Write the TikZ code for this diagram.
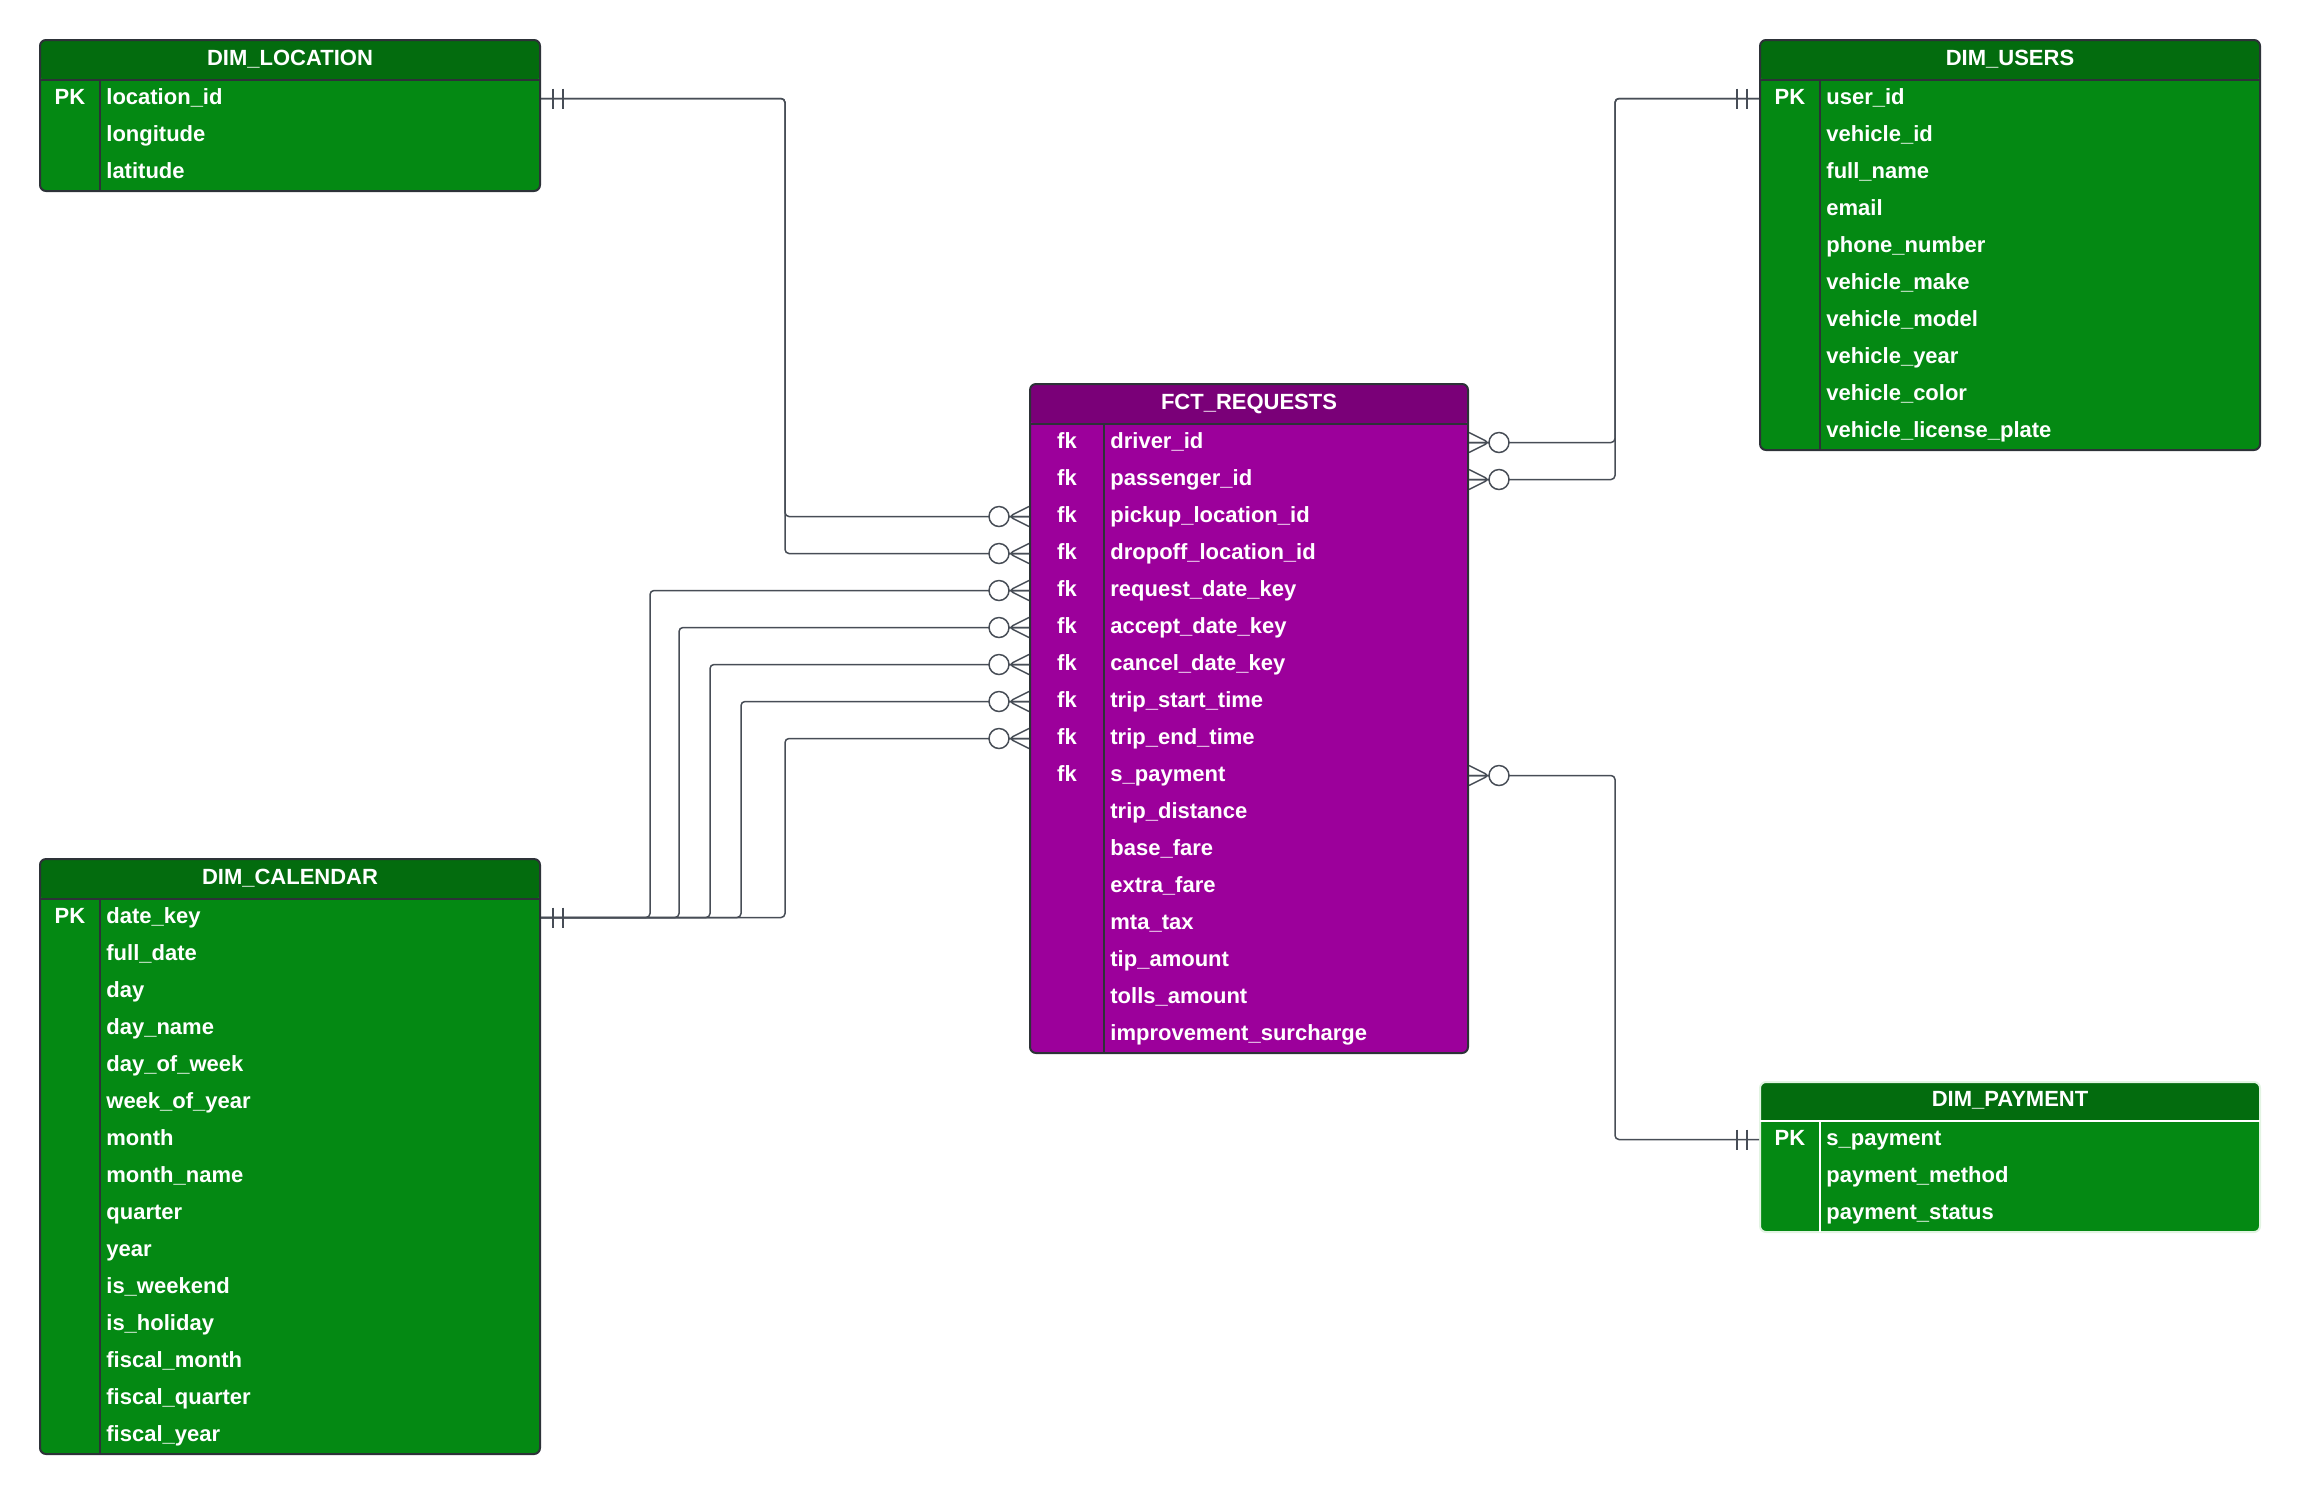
\documentclass[tikz,border=0pt]{standalone}
\usepackage{fontspec}
\setmainfont{Liberation Sans}
\usetikzlibrary{calc,fit}
\definecolor{ghead}{HTML}{036C0E}
\definecolor{gbody}{HTML}{048913}
\definecolor{phead}{HTML}{7A0078}
\definecolor{pbody}{HTML}{9C009B}
\definecolor{tblline}{HTML}{2D3238}
\definecolor{paybord}{HTML}{E2F4E2}
\definecolor{wirecol}{HTML}{474D56}
\newcommand{\OneOnly}[2]{\draw[wire] ($(#1)+(#2*12,-10)$) -- ++(0,20) ($(#1)+(#2*22,-10)$) -- ++(0,20);}
\newcommand{\ZeroMany}[2]{\draw[wire] ($(#1)+(0,-10)$) -- ($(#1)+(#2*20,0)$) -- ($(#1)+(0,10)$) (#1) -- ($(#1)+(#2*20,0)$);
  \draw[wire, fill=white] ($(#1)+(#2*30,0)$) circle[radius=10];}

\begin{document}
\begin{tikzpicture}[x=0.5pt, y=-0.5pt,
    tbl/.style={draw=tblline, line width=1pt, rounded corners=3pt, inner sep=0pt},
    headfill/.style={path picture={\fill[#1] (path picture bounding box.north west) rectangle ([yshift=-20pt]path picture bounding box.north east);}},
    divline/.style={draw=tblline, line width=0.8pt},
    hdtext/.style={text=white, font=\bfseries\fontsize{11}{13}\selectfont, inner sep=0pt, text height=8pt, text depth=3pt},
    fieldtext/.style={hdtext, anchor=west, text height=8.5pt, text depth=3pt},
    keytext/.style={fieldtext, anchor=center},
    wire/.style={draw=wirecol, line width=0.75pt, rounded corners=2pt}]

    \useasboundingbox (0,0) rectangle (2300,1495);

    % dim_location
    \node[tbl, fill=gbody, headfill=ghead, fit={(40,40) (540,191)}] (loc) {};
    \draw[divline] (40,80) -- (540,80) (100,80) -- (100,191);
    \node[hdtext] (loc-t) at (290,60) {DIM\_LOCATION};
    \node[keytext] (loc-k) at (70,98.5) {PK};
    \foreach \f [count=\i] in {location\_id, longitude, latitude}
        \node[fieldtext] (loc\i) at (106,{61.5+37*\i}) {\f};

    % dim_users
    \node[tbl, fill=gbody, headfill=ghead, fit={(1760,40) (2260,450)}] (usr) {};
    \draw[divline] (1760,80) -- (2260,80) (1820,80) -- (1820,450);
    \node[hdtext] (usr-t) at (2010,60) {DIM\_USERS};
    \node[keytext] (usr-k) at (1790,98.5) {PK};
    \foreach \f [count=\i] in {user\_id, vehicle\_id, full\_name, email, phone\_number, vehicle\_make,
        vehicle\_model, vehicle\_year, vehicle\_color, vehicle\_license\_plate}
        \node[fieldtext] (usr\i) at (1826,{61.5+37*\i}) {\f};

    % fct_requests
    \node[tbl, fill=pbody, headfill=phead, fit={(1030,384) (1468,1053)}] (fct) {};
    \draw[divline] (1030,424) -- (1468,424) (1104,424) -- (1104,1053);
    \node[hdtext] (fct-t) at (1249,404) {FCT\_REQUESTS};
    \foreach \i in {1,...,10}
        \node[keytext] (fct-k\i) at (1067,{405.5+37*\i}) {fk};
    \foreach \f [count=\i] in {driver\_id, passenger\_id, pickup\_location\_id, dropoff\_location\_id,
        request\_date\_key, accept\_date\_key, cancel\_date\_key, trip\_start\_time, trip\_end\_time,
        s\_payment, trip\_distance, base\_fare, extra\_fare, mta\_tax, tip\_amount, tolls\_amount,
        improvement\_surcharge}
        \node[fieldtext] (fct\i) at (1110,{405.5+37*\i}) {\f};

    % dim_calendar
    \node[tbl, fill=gbody, headfill=ghead, fit={(40,859) (540,1454)}] (cal) {};
    \draw[divline] (40,899) -- (540,899) (100,899) -- (100,1454);
    \node[hdtext] (cal-t) at (290,879) {DIM\_CALENDAR};
    \node[keytext] (cal-k) at (70,917.5) {PK};
    \foreach \f [count=\i] in {date\_key, full\_date, day, day\_name, day\_of\_week, week\_of\_year,
        month, month\_name, quarter, year, is\_weekend, is\_holiday, fiscal\_month, fiscal\_quarter,
        fiscal\_year}
        \node[fieldtext] (cal\i) at (106,{880.5+37*\i}) {\f};

    % dim_payment
    \node[tbl, draw=paybord, fill=gbody, headfill=ghead, fit={(1760,1082) (2260,1232)}] (pay) {};
    \draw[divline, draw=white] (1760,1121) -- (2260,1121) (1820,1121) -- (1820,1232);
    \node[hdtext] (pay-t) at (2010,1101) {DIM\_PAYMENT};
    \node[keytext] (pay-k) at (1790,1139.5) {PK};
    \foreach \f [count=\i] in {s\_payment, payment\_method, payment\_status}
        \node[fieldtext] (pay\i) at (1826,{1102.5+37*\i}) {\f};

    % relations
    \foreach \r in {3,4}
        \draw[wire] (loc.east |- loc1) -- (785,0 |- loc1) -- (785,0 |- fct\r) -- (fct.west |- fct\r);
    \foreach \x/\r in {650/5, 679/6, 710/7, 741/8, 785/9}
        \draw[wire] (cal.east |- cal1) -- (\x,0 |- cal1) -- (\x,0 |- fct\r) -- (fct.west |- fct\r);
    \foreach \r in {1,2}
        \draw[wire] (usr.west |- usr1) -- (1615,0 |- usr1) -- (1615,0 |- fct\r) -- (fct.east |- fct\r);
    \draw[wire] (pay.west |- pay1) -- (1615,0 |- pay1) -- (1615,0 |- fct10) -- (fct.east |- fct10);

    \OneOnly{loc.east |- loc1}{1}
    \OneOnly{cal.east |- cal1}{1}
    \OneOnly{usr.west |- usr1}{-1}
    \OneOnly{pay.west |- pay1}{-1}
    \foreach \r in {3,...,9}
        {\ZeroMany{fct.west |- fct\r}{-1}}
    \foreach \r in {1,2,10}
        {\ZeroMany{fct.east |- fct\r}{1}}

\end{tikzpicture}
\end{document}
